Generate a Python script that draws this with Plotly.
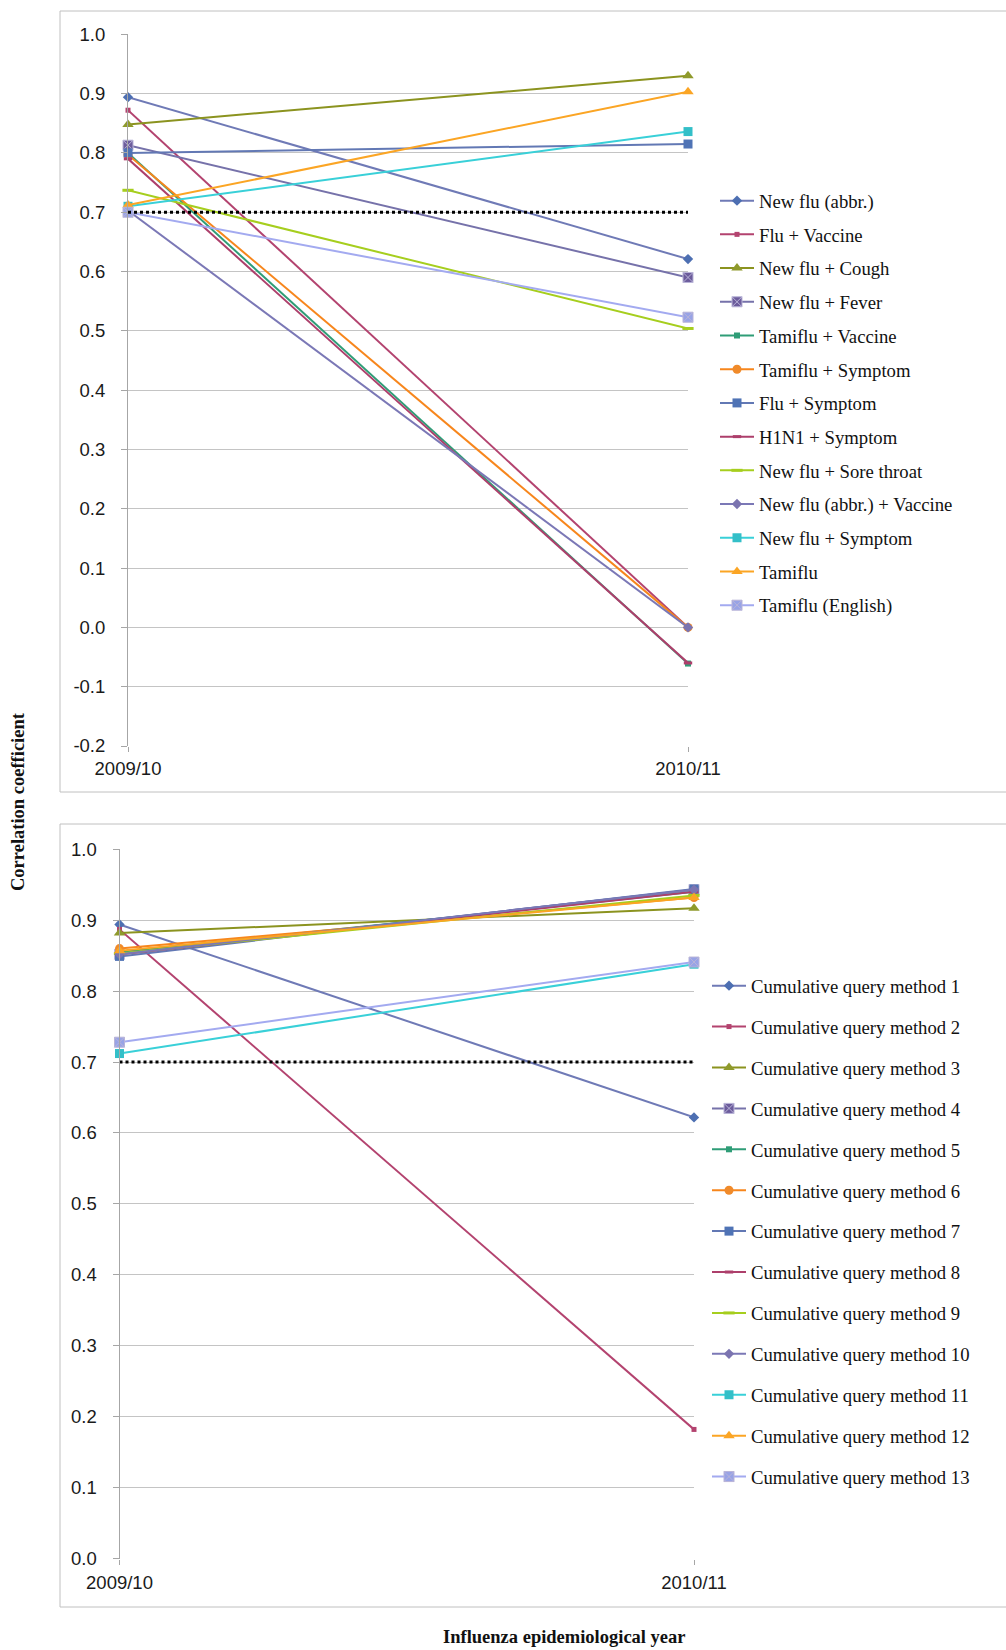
import plotly.graph_objects as go

# Influenza seasons on the category axis
seasons = ["2009/10", "2010/11"]
threshold = 0.7

# Correlation axis ticks (plain hyphen for negatives)
top_tickvals = [-0.2, -0.1, 0.0, 0.1, 0.2, 0.3, 0.4, 0.5, 0.6, 0.7, 0.8, 0.9, 1.0]
top_ticktext = ["-0.2", "-0.1", "0.0", "0.1", "0.2", "0.3", "0.4", "0.5",
                "0.6", "0.7", "0.8", "0.9", "1.0"]
bottom_tickvals = [0.0, 0.1, 0.2, 0.3, 0.4, 0.5, 0.6, 0.7, 0.8, 0.9, 1.0]
bottom_ticktext = ["0.0", "0.1", "0.2", "0.3", "0.4", "0.5", "0.6", "0.7",
                   "0.8", "0.9", "1.0"]

# Upper panel: single query terms, correlation per season
top_names = [
    "New flu (abbr.)", "Flu + Vaccine", "New flu + Cough", "New flu + Fever",
    "Tamiflu + Vaccine", "Tamiflu + Symptom", "Flu + Symptom", "H1N1 + Symptom",
    "New flu + Sore throat", "New flu (abbr.) + Vaccine", "New flu + Symptom",
    "Tamiflu", "Tamiflu (English)",
]
top_2009 = [0.894, 0.872, 0.848, 0.813, 0.800, 0.797, 0.800, 0.790,
            0.737, 0.703, 0.710, 0.712, 0.700]
top_2010 = [0.621, 0.000, 0.930, 0.590, -0.061, 0.000, 0.815, -0.060,
            0.504, 0.000, 0.836, 0.903, 0.523]

# Lower panel: cumulative query methods
bottom_names = ["Cumulative query method %d" % i for i in range(1, 14)]
bottom_2009 = [0.894, 0.887, 0.882, 0.852, 0.855, 0.860, 0.849, 0.852,
               0.853, 0.852, 0.712, 0.857, 0.728]
bottom_2010 = [0.622, 0.182, 0.917, 0.943, 0.940, 0.932, 0.944, 0.940,
               0.935, 0.943, 0.838, 0.932, 0.841]

# Series styling (line colour, marker colour, symbol, size)
styles = [
    ("#6f7ab6", "#4d6fb2", "diamond", 8),
    ("#b3436f", "#b3436f", "square", 5),
    ("#8b931f", "#8f9a2c", "triangle-up", 10),
    ("#7672aa", "#6c5c9c", "square-x", 10),
    ("#2f9d77", "#2f9d77", "square", 6),
    ("#f7861c", "#f08a2a", "circle", 9),
    ("#6278b4", "#4f73b5", "square", 9),
    ("#ad3f6b", "#ad3f6b", "line-ew", 6),
    ("#a6ce1e", "#a6ce1e", "line-ew", 8),
    ("#7b78b6", "#7b74b0", "diamond", 8),
    ("#39d0d8", "#33bfc8", "square", 9),
    ("#fba524", "#fba524", "triangle-up", 10),
    ("#a3aaf0", "#98a3e6", "square-x", 10),
]

fig = go.Figure()


def add_panel(names, v1, v2, xa, ya, legend):
    for i, name in enumerate(names):
        lc, mc, sym, sz = styles[i]
        if sym == "line-ew":
            marker = dict(symbol=sym, size=sz, line=dict(color=mc, width=3))
        elif sym == "square-x":
            marker = dict(symbol=sym, size=sz, color=mc,
                          line=dict(color="#b9b4d8", width=1))
        else:
            marker = dict(symbol=sym, size=sz, color=mc, line=dict(width=0))
        fig.add_trace(go.Scatter(
            x=seasons, y=[v1[i], v2[i]], name=name, mode="lines+markers",
            line=dict(color=lc, width=2), marker=marker, cliponaxis=False,
            xaxis=xa, yaxis=ya, legend=legend, legendgroup=legend + str(i),
        ))
    # 0.7 reference line
    fig.add_trace(go.Scatter(
        x=seasons, y=[threshold, threshold], mode="lines", showlegend=False,
        line=dict(color="black", width=3, dash="dot"), hoverinfo="skip",
        xaxis=xa, yaxis=ya,
    ))


add_panel(top_names, top_2009, top_2010, "x", "y", "legend")
add_panel(bottom_names, bottom_2009, bottom_2010, "x2", "y2", "legend2")

H = 1650.0
W = 1006.0
tick_font = dict(family="Liberation Sans, Arial, sans-serif", size=18.5, color="#1a1a1a")
leg_font = dict(family="Liberation Serif, Times New Roman, serif", size=18.7, color="#111")
title_font = dict(family="Liberation Serif, Times New Roman, serif", size=18.5, color="#111")

xcommon = dict(type="category", range=[0, 1], showgrid=False, showline=False,
               ticks="outside", ticklen=5, tickcolor="#a6a6a6", automargin=False,
               tickfont=tick_font, zeroline=False, fixedrange=True)
ycommon = dict(showgrid=True, gridcolor="#c4c4c4", gridwidth=1,
               showline=True, linecolor="#a6a6a6", linewidth=1,
               ticks="outside", ticklen=6, tickcolor="#a6a6a6", automargin=False,
               tickfont=tick_font, zeroline=False, tickmode="array",
               ticklabelstandoff=12, fixedrange=True)

fig.update_layout(
    width=1006, height=1650,
    margin=dict(l=0, r=0, t=0, b=0, pad=0, autoexpand=False),
    paper_bgcolor="white", plot_bgcolor="white",
    xaxis=dict(xcommon, domain=[128 / W, 688 / W], anchor="y", ticklabelstandoff=1),
    yaxis=dict(ycommon, domain=[1 - 746 / H, 1 - 34.3 / H], anchor="x",
               range=[-0.2, 1.0], tickvals=top_tickvals, ticktext=top_ticktext),
    xaxis2=dict(xcommon, domain=[119.5 / W, 694 / W], anchor="y2", ticklabelstandoff=2),
    yaxis2=dict(ycommon, domain=[1 - 1558.5 / H, 1 - 849.3 / H], anchor="x2",
                range=[0.0, 1.0], tickvals=bottom_tickvals, ticktext=bottom_ticktext),
    legend=dict(x=715 / W, y=1 - 182 / H, xanchor="left", yanchor="top",
                font=leg_font, tracegroupgap=6.4, bgcolor="rgba(0,0,0,0)",
                itemwidth=34),
    legend2=dict(x=707 / W, y=1 - 967 / H, xanchor="left", yanchor="top",
                 font=leg_font, tracegroupgap=13.6, bgcolor="rgba(0,0,0,0)",
                 itemwidth=34),
    shapes=[
        dict(type="rect", xref="paper", yref="paper",
             x0=60 / W, x1=1.01, y0=1 - 792 / H, y1=1 - 11 / H,
             line=dict(color="#c0c0c0", width=1)),
        dict(type="rect", xref="paper", yref="paper",
             x0=60 / W, x1=1.01, y0=1 - 1607 / H, y1=1 - 824 / H,
             line=dict(color="#c0c0c0", width=1)),
    ],
    annotations=[
        dict(text="<b>Correlation coefficient</b>", xref="paper", yref="paper",
             x=18 / W, y=1 - 802 / H, textangle=-90, showarrow=False,
             xanchor="center", yanchor="middle", font=title_font),
        dict(text="<b>Influenza epidemiological year</b>", xref="paper", yref="paper",
             x=564 / W, y=1 - 1637 / H, showarrow=False,
             xanchor="center", yanchor="middle", font=title_font),
    ],
)

fig.write_html("out.html")
